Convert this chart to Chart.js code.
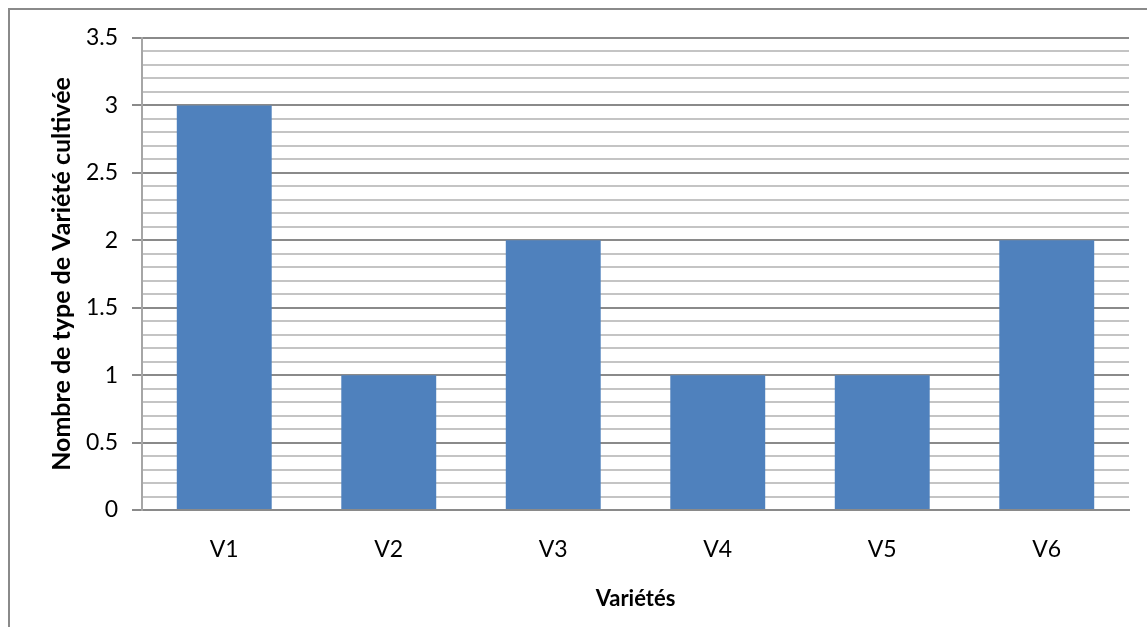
<!DOCTYPE html>
<html>
<head>
<meta charset="utf-8">
<script src="https://cdn.jsdelivr.net/npm/chart.js@4.4.0/dist/chart.umd.min.js"></script>
<style>
  body { margin: 0; background: #fff; overflow: hidden; }
  #wrap { position: relative; width: 1147px; height: 627px; }
</style>
</head>
<body>
<div id="wrap"><canvas id="myChart"></canvas></div>
<script>
let labelsArray = ['V1', 'V2', 'V3', 'V4', 'V5', 'V6'];
let countData = [3, 1, 2, 1, 1, 2];  // nombre de type de variété cultivée
let yMax = 3.5;
let yStep = 0.1;
let yLabelStep = 0.5;

const majorColor = '#8a8a8a';
const minorColor = '#c4c4c4';
const fontName = 'Lato, "Open Sans", sans-serif';

function isMajor(v) {
  return Math.round(v * 10) % Math.round(yLabelStep * 10) === 0;
}

// cadre gris autour du graphique (haut et gauche seulement visibles)
const frame = {
  id: 'frame',
  beforeDraw(chart) {
    const c = chart.ctx;
    c.save();
    c.strokeStyle = '#8a8a8a';
    c.lineWidth = 2;
    c.beginPath();
    c.moveTo(9, 627);
    c.lineTo(9, 9);
    c.lineTo(1147, 9);
    c.stroke();
    c.restore();
  }
};

const ctx = document.getElementById('myChart');
let chart = new Chart(ctx, {
  type: 'bar',
  data: {
    labels: labelsArray,
    datasets: [{
      label: 'Nombre',
      data: countData,
      backgroundColor: '#4f81bd',
      borderWidth: 0,
      categoryPercentage: 1,
      barPercentage: 0.577
    }]
  },
  options: {
    responsive: true,
    maintainAspectRatio: false,
    animation: false,
    layout: { padding: { top: 38, right: 18, left: 0, bottom: 0 } },
    plugins: {
      legend: { display: false },
      tooltip: { enabled: false }
    },
    scales: {
      x: {
        grid: { display: false },
        border: { display: true, color: '#8a8a8a', width: 2 },
        ticks: {
          color: '#000',
          font: { family: fontName, size: 23 },
          padding: 18
        },
        title: {
          display: true,
          text: 'Variétés',
          color: '#000',
          font: { family: fontName, size: 22, weight: 'bold', lineHeight: 1.2 },
          padding: { top: 0, bottom: 15 }
        },
        afterFit(scale) { scale.height = 117; }
      },
      y: {
        min: 0,
        max: yMax,
        border: { display: true, color: '#a6a6a6', width: 2 },
        grid: {
          color: (c) => isMajor(c.tick.value) ? majorColor : minorColor,
          tickColor: (c) => isMajor(c.tick.value) ? majorColor : 'rgba(0,0,0,0)',
          lineWidth: 2,
          tickLength: 10
        },
        ticks: {
          stepSize: yStep,
          autoSkip: false,
          color: '#000',
          font: { family: fontName, size: 23 },
          padding: 14,
          callback: (v) => isMajor(v) ? String(Math.round(v * 10) / 10) : ''
        },
        title: {
          display: true,
          text: 'Nombre de type de Variété cultivée',
          color: '#000',
          font: { family: fontName, size: 25, weight: 'bold', lineHeight: 1.2 },
          padding: { top: 47, bottom: 0 }
        },
        afterFit(scale) { scale.width = 142; }
      }
    }
  },
  plugins: [frame]
});
</script>
</body>
</html>
